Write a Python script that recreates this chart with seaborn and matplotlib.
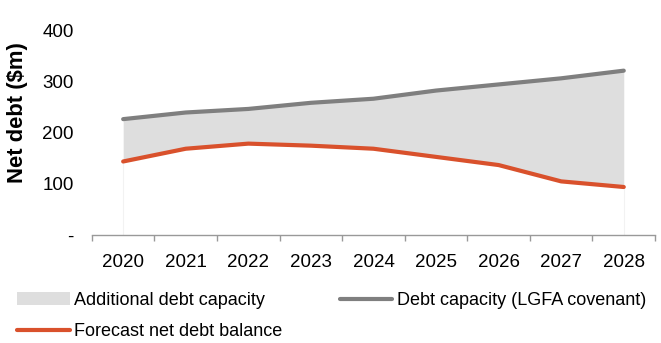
import matplotlib
matplotlib.use("Agg")
import matplotlib.pyplot as plt
import seaborn as sns
import pandas as pd
import numpy as np
from matplotlib.patches import Patch
from matplotlib.lines import Line2D

years = ["2020", "2021", "2022", "2023", "2024", "2025", "2026", "2027", "2028"]
debt_capacity = [227, 240, 247, 259, 267, 283, 295, 307, 322]
forecast_debt = [144, 169, 179, 175, 169, 153, 137, 105, 94]
y_ticks = [0, 100, 200, 300, 400]
y_tick_labels = ["-", "100", "200", "300", "400"]

sns.set_theme(style="white")
plt.rcParams["font.family"] = ["Liberation Sans", "DejaVu Sans"]
plt.rcParams["text.color"] = "black"
plt.rcParams["axes.labelcolor"] = "black"
plt.rcParams["xtick.color"] = "black"
plt.rcParams["ytick.color"] = "black"

df = pd.DataFrame({"x": np.arange(len(years)), "cap": debt_capacity, "fc": forecast_debt})

fig = plt.figure(figsize=(6.61, 3.43), dpi=100)
ax = fig.add_axes([0.139, 0.315, 0.852, 0.595])

gray = "#7F7F7F"
red = "#D9512C"
fill_c = "#DEDEDE"

ax.fill_between(df["x"], df["fc"], df["cap"], color=fill_c, lw=0, zorder=1)
ax.vlines([df["x"].iloc[0], df["x"].iloc[-1]], 0, df["fc"].iloc[[0, -1]], color="#F2F2F2", lw=0.8, zorder=0)
sns.lineplot(data=df, x="x", y="cap", color=gray, lw=3, ax=ax, zorder=3)
sns.lineplot(data=df, x="x", y="fc", color=red, lw=3, ax=ax, zorder=3)

ax.set_xlim(-0.5, len(years) - 0.5)
ax.set_ylim(0, 400)
ax.set_yticks(y_ticks)
ax.set_yticklabels(y_tick_labels, fontsize=13.5)
ax.set_xticks(np.arange(len(years)))
ax.set_xticklabels(years, fontsize=13.5)
ax.set_xticks(np.arange(len(years) + 1) - 0.5, minor=True)
ax.tick_params(axis="x", which="major", length=0, pad=14, labelcolor="black")
ax.tick_params(axis="x", which="minor", length=4, width=1, color="#999999", direction="out", bottom=True)
ax.tick_params(axis="y", length=0, pad=13, labelcolor="black")
ax.set_xlabel("")
ax.set_ylabel("Net debt ($m)", fontsize=15.8, fontweight="bold", color="black")
ax.yaxis.set_label_coords(-0.113, 0.60)

for s in ["top", "right", "left"]:
    ax.spines[s].set_visible(False)
ax.spines["bottom"].set_color("#999999")
ax.spines["bottom"].set_linewidth(1)
ax.grid(False)

handles = [
    Patch(facecolor=fill_c, edgecolor="none", label="Additional debt capacity"),
    Line2D([0], [0], color=red, lw=3, label="Forecast net debt balance"),
    Line2D([0], [0], color=gray, lw=3, label="Debt capacity (LGFA covenant)"),
]
fig.legend(handles=handles, ncol=2, loc="upper left", bbox_to_anchor=(0.0257, 0.149),
           frameon=False, fontsize=13, handlelength=2.93, handletextpad=0.25,
           columnspacing=3.15, labelspacing=0.79, borderpad=0, borderaxespad=0)

fig.savefig("out.png", dpi=100)
